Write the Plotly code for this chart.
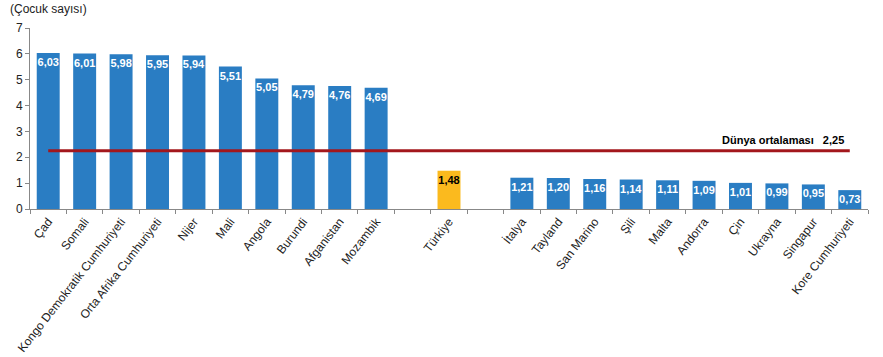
import plotly.graph_objects as go

high_countries = ["Çad", "Somali", "Kongo Demokratik Cumhuriyeti", "Orta Afrika Cumhuriyeti",
                  "Nijer", "Mali", "Angola", "Burundi", "Afganistan", "Mozambik"]
high_values = [6.03, 6.01, 5.98, 5.95, 5.94, 5.51, 5.05, 4.79, 4.76, 4.69]
turkey = ["Türkiye"]
turkey_values = [1.48]
low_countries = ["İtalya", "Tayland", "San Marino", "Şili", "Malta", "Andorra", "Çin",
                 "Ukrayna", "Singapur", "Kore Cumhuriyeti"]
low_values = [1.21, 1.20, 1.16, 1.14, 1.11, 1.09, 1.01, 0.99, 0.95, 0.73]
world_avg = 2.25
world_label = "Dünya ortalaması"
y_title = "(Çocuk sayısı)"

gap1, gap2 = " ", "  "
categories = high_countries + [gap1] + turkey + [gap2] + low_countries

def fmt(v):
    return f"{v:.2f}".replace(".", ",")

BLUE = "#2A7DC3"
GOLD = "#FBBA1E"
RED = "#A3171C"
FONT = "Liberation Sans, Arial, sans-serif"

def bar(xs, ys, color, tcolor):
    return go.Bar(
        x=xs, y=ys, marker_color=color, marker_line_width=0,
        text=[fmt(v) for v in ys], textposition="inside", insidetextanchor="end",
        textangle=0, constraintext="none",
        textfont=dict(color=tcolor, size=11, family=FONT, weight="bold"),
        width=0.63,
    )

fig = go.Figure()
fig.add_trace(bar(high_countries, high_values, BLUE, "white"))
fig.add_trace(bar(turkey, turkey_values, GOLD, "black"))
fig.add_trace(bar(low_countries, low_values, BLUE, "white"))
fig.add_trace(go.Scatter(
    x=[categories[0], categories[-1]], y=[world_avg, world_avg], mode="lines",
    line=dict(color=RED, width=3), hoverinfo="skip",
))
fig.add_annotation(
    x=categories[-1], y=world_avg, xref="x", yref="y",
    text=f"<b>{world_label}   {fmt(world_avg)}</b>", showarrow=False,
    xanchor="right", yanchor="bottom", yshift=3, xshift=-4,
    font=dict(size=11, color="black", family=FONT),
)
fig.add_annotation(
    x=0, y=1, xref="paper", yref="paper", text=y_title, showarrow=False,
    xanchor="left", yanchor="bottom", xshift=-22, yshift=10,
    font=dict(size=12, color="#222", family=FONT),
)

fig.update_layout(
    width=883, height=357,
    margin=dict(l=30, r=15, t=28, b=148),
    paper_bgcolor="white", plot_bgcolor="white",
    showlegend=False, barmode="overlay",
    font=dict(family=FONT, size=12, color="#222"),
)
fig.update_xaxes(
    type="category", categoryorder="array", categoryarray=categories,
    range=[-0.5, len(categories) - 0.5], automargin=False,
    tickson="boundaries", ticks="outside", ticklen=4, tickcolor="#888",
    showline=True, linecolor="#888", linewidth=1,
    tickangle=-52, tickfont=dict(size=12, color="#222"),
    showgrid=False,
)
fig.update_yaxes(
    range=[0, 7], dtick=1, ticks="outside", ticklen=4, tickcolor="#888",
    showline=True, linecolor="#888", linewidth=1, showgrid=False, zeroline=False,
    automargin=False, tickfont=dict(size=12, color="#222"),
)

fig.write_html("out.html", config={"displayModeBar": False},
               post_script="document.body.style.margin='0';")
